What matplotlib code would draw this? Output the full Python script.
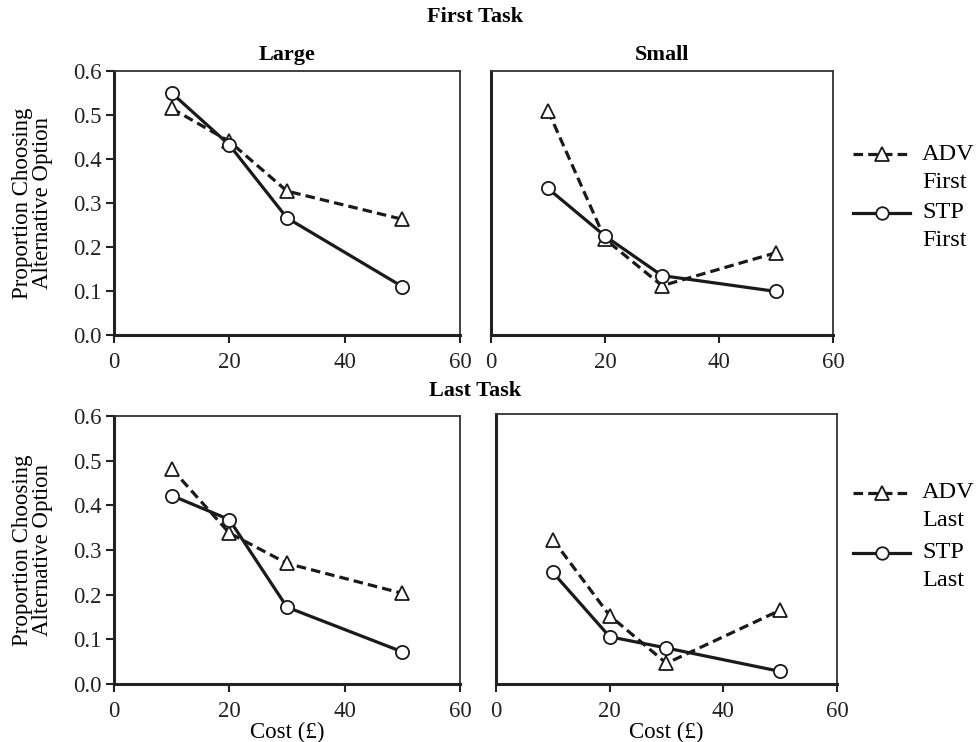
import matplotlib
matplotlib.use('Agg')
import matplotlib.pyplot as plt
from matplotlib.lines import Line2D

plt.rcParams['font.family'] = ['Liberation Serif', 'DejaVu Serif']

# data
cost = [10, 20, 30, 50]
adv_first_large = [0.515, 0.44, 0.327, 0.263]
stp_first_large = [0.55, 0.432, 0.266, 0.11]
adv_first_small = [0.51, 0.218, 0.112, 0.187]
stp_first_small = [0.333, 0.225, 0.135, 0.099]
adv_last_large = [0.482, 0.338, 0.27, 0.203]
stp_last_large = [0.422, 0.368, 0.172, 0.072]
adv_last_small = [0.321, 0.152, 0.046, 0.164]
stp_last_small = [0.248, 0.105, 0.08, 0.028]

W, H = 978, 742
fig = plt.figure(figsize=(W/100, H/100), dpi=100)

def px_axes(l, t, r, b):
    return fig.add_axes([l/W, 1-b/H, (r-l)/W, (b-t)/H])

adv_style = dict(color='#1a1a1a', ls=(0, (3, 1.6)), lw=2.3, marker='^', ms=10,
                 mfc='white', mec='#1a1a1a', mew=1.3)
stp_style = dict(color='#1a1a1a', ls='-', lw=2.3, marker='o', ms=9.5,
                 mfc='white', mec='#1a1a1a', mew=1.3)

panels = [
    ((114, 71, 460, 335), adv_first_large, stp_first_large, True, False),
    ((491, 71, 833, 335), adv_first_small, stp_first_small, False, False),
    ((114, 416, 460, 684), adv_last_large, stp_last_large, True, True),
    ((496, 414, 837, 684), adv_last_small, stp_last_small, False, True),
]
axes = []
for box, adv, stp, left, bottom in panels:
    ax = px_axes(*box)
    ax.plot(cost, adv, **adv_style, zorder=3)
    ax.plot(cost, stp, **stp_style, zorder=4)
    ax.set_xlim(0, 60)
    ax.set_ylim(0, 0.6)
    ax.set_xticks([0, 20, 40, 60])
    ax.tick_params(axis='x', direction='out', length=6, width=1.5, labelsize=16.5,
                   pad=6, colors='#222222')
    if left:
        ax.set_yticks([0, 0.1, 0.2, 0.3, 0.4, 0.5, 0.6])
        ax.set_yticklabels(['%.1f' % v for v in ax.get_yticks()])
        ax.tick_params(axis='y', direction='out', length=6, width=1.5,
                       labelsize=16.5, pad=3, colors='#222222')
        ax.set_ylabel('Proportion Choosing\nAlternative Option', fontsize=16.5,
                      linespacing=0.95, labelpad=14)
    else:
        ax.set_yticks([])
    if bottom:
        ax.set_xlabel('Cost (£)', fontsize=16.5, labelpad=0)
    for s in ['left', 'bottom']:
        ax.spines[s].set_linewidth(2.2)
        ax.spines[s].set_color('#222222')
    for s in ['top', 'right']:
        ax.spines[s].set_linewidth(1.3)
        ax.spines[s].set_color('#333333')
    axes.append(ax)

axes[0].set_title('Large', fontsize=16, fontweight='bold', pad=8)
axes[1].set_title('Small', fontsize=16, fontweight='bold', pad=8)
fig.text(475/W, 1-17/H, 'First Task', ha='center', va='center', fontsize=16, fontweight='bold')
fig.text(475/W, 1-391/H, 'Last Task', ha='center', va='center', fontsize=16, fontweight='bold')

# legends at the right
def legend_entry(y, style, l1, l2):
    ln = Line2D([853/W, 910/W], [1-y/H, 1-y/H], transform=fig.transFigure,
                **{k: v for k, v in style.items() if k != 'marker'})
    fig.add_artist(ln)
    mk = Line2D([882/W], [1-y/H], transform=fig.transFigure, ls='none',
                marker=style['marker'], ms=style['ms'] * 0.95, mfc='white',
                mec='#1a1a1a', mew=1.3)
    fig.add_artist(mk)
    fig.text(922/W, 1-y/H, l1, ha='left', va='center', fontsize=17.5)
    fig.text(922/W, 1-(y+28)/H, l2, ha='left', va='center', fontsize=17.5)

legend_entry(154, adv_style, 'ADV', 'First')
legend_entry(213, stp_style, 'STP', 'First')
legend_entry(493, adv_style, 'ADV', 'Last')
legend_entry(553, stp_style, 'STP', 'Last')

plt.savefig('out.png', dpi=100)
